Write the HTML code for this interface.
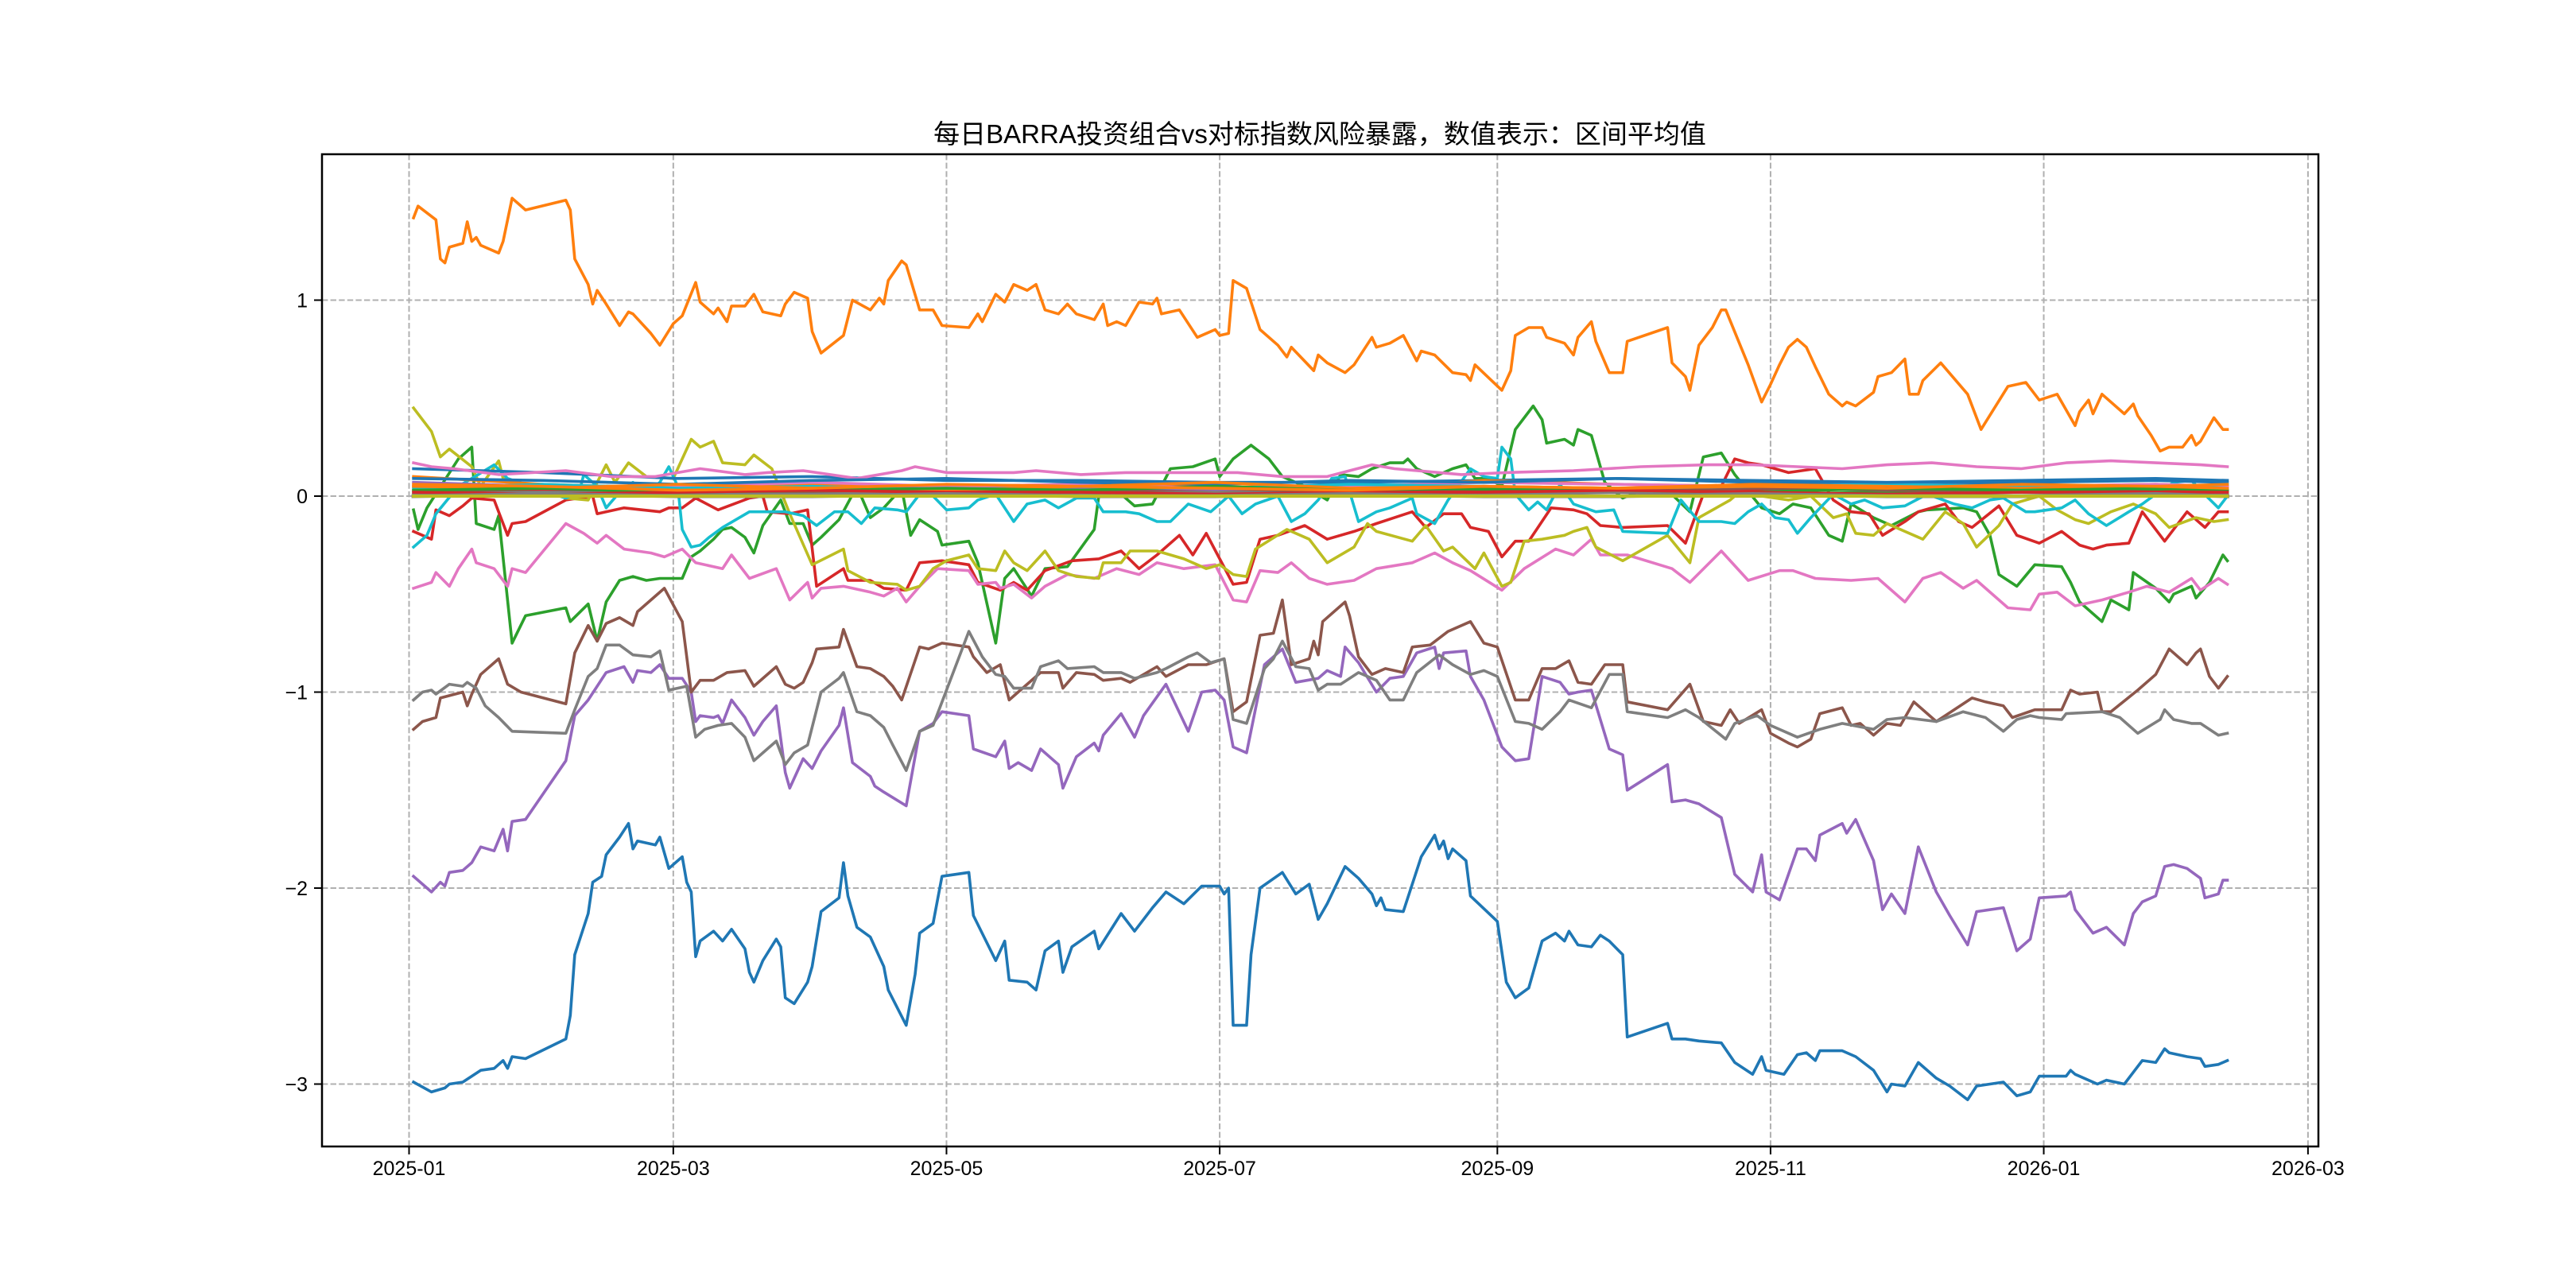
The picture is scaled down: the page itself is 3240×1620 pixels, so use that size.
<!DOCTYPE html>
<html><head><meta charset="utf-8"><title>BARRA exposure</title>
<style>html,body{margin:0;padding:0;background:#fff;}svg{display:block;}
text{font-family:"Liberation Sans","WenQuanYi Zen Hei","Noto Sans CJK SC",sans-serif;fill:#000;}</style></head>
<body>
<svg id="chart" xmlns="http://www.w3.org/2000/svg" width="3240" height="1620" viewBox="0 0 3240 1620">
<rect x="0" y="0" width="3240" height="1620" fill="#fff"/>
<text x="1660" y="180" font-size="33" text-anchor="middle">每日BARRA投资组合vs对标指数风险暴露，数值表示：区间平均值</text>
<defs><clipPath id="plotclip"><rect x="405" y="194" width="2511" height="1248"/></clipPath></defs>
<g id="grid"></g>
<g id="lines" clip-path="url(#plotclip)"></g>
<rect x="405" y="194" width="2511" height="1248" fill="none" stroke="#000" stroke-width="2.5"/>
<g id="axes"></g>
</svg>
<script>
const xTickDays = [0,59,120,181,243,304,365,424];
const xTickLabels = ["2025-01","2025-03","2025-05","2025-07","2025-09","2025-11","2026-01","2026-03"];
const yTickVals = [1,0,-1,-2,-3];
const yTickLabels = ["1","0","\u22121","\u22122","\u22123"];

const blueDays=[1,5,8,9,12,16,19,21,22,23,26,35,36,37,40,41,43,44,47,49,50,51,55,56,58,61,62,63,64,65,68,70,72,75,76,77,79,82,83,84,86,89,90,92,96,97,98,100,103,106,107,111,113,114,117,119,125,126,131,133,134,138,140,142,145,146,148,153,154,159,162,166,169,173,177,181,182,183,184,187,188,190,195,198,201,203,205,209,212,215,216,217,218,222,224,226,229,230,231,232,233,236,237,243,245,247,250,253,256,258,259,261,264,266,268,271,272,281,282,285,288,293,296,300,302,303,307,310,312,314,315,320,323,327,330,331,334,337,341,344,348,350,356,359,362,364,370,371,372,377,379,383,385,387,390,392,393,397,400,401,404,406];
const blueVals=[-2.99,-3.04,-3.02,-3.0,-2.99,-2.93,-2.92,-2.88,-2.92,-2.86,-2.87,-2.77,-2.65,-2.34,-2.13,-1.97,-1.94,-1.83,-1.74,-1.67,-1.80,-1.76,-1.78,-1.74,-1.90,-1.84,-1.97,-2.02,-2.35,-2.27,-2.22,-2.27,-2.21,-2.31,-2.43,-2.48,-2.37,-2.26,-2.30,-2.56,-2.59,-2.48,-2.40,-2.12,-2.05,-1.87,-2.04,-2.20,-2.25,-2.40,-2.52,-2.70,-2.44,-2.23,-2.18,-1.94,-1.92,-2.14,-2.37,-2.27,-2.47,-2.48,-2.52,-2.32,-2.27,-2.43,-2.30,-2.22,-2.31,-2.13,-2.22,-2.10,-2.02,-2.08,-1.99,-1.99,-2.03,-2.0,-2.70,-2.70,-2.34,-2.0,-1.92,-2.03,-1.98,-2.16,-2.08,-1.89,-1.95,-2.03,-2.09,-2.05,-2.11,-2.12,-1.98,-1.84,-1.73,-1.80,-1.76,-1.85,-1.80,-1.86,-2.04,-2.17,-2.48,-2.56,-2.51,-2.27,-2.23,-2.27,-2.22,-2.29,-2.30,-2.24,-2.27,-2.34,-2.76,-2.69,-2.77,-2.77,-2.78,-2.79,-2.89,-2.95,-2.86,-2.93,-2.95,-2.85,-2.84,-2.88,-2.83,-2.83,-2.86,-2.93,-3.04,-3.0,-3.01,-2.89,-2.97,-3.01,-3.08,-3.01,-2.99,-3.06,-3.04,-2.96,-2.96,-2.93,-2.95,-3.0,-2.98,-3.0,-2.94,-2.88,-2.89,-2.82,-2.84,-2.86,-2.87,-2.91,-2.90,-2.88];

const orangeDays=[1,2,6,7,8,9,12,13,14,15,16,20,21,23,26,35,36,37,40,41,42,44,47,49,50,54,56,59,61,64,65,68,69,71,72,75,77,79,83,84,86,89,90,92,97,99,103,105,106,107,110,111,114,117,119,125,127,128,131,133,135,138,140,142,145,147,149,153,155,156,158,160,163,166,167,168,172,176,180,181,183,184,187,190,194,196,197,202,203,205,209,211,215,216,219,222,225,226,229,233,236,237,238,244,246,247,250,253,254,258,260,261,264,265,268,271,272,281,282,285,286,288,291,293,294,299,302,304,306,308,310,312,314,317,320,321,323,327,328,331,334,335,337,338,342,348,351,357,361,364,368,372,373,375,376,378,383,385,386,389,391,393,396,398,399,400,403,405,406];
const orangeVals=[1.42,1.48,1.41,1.21,1.19,1.27,1.29,1.40,1.30,1.32,1.28,1.24,1.30,1.52,1.46,1.51,1.46,1.21,1.08,0.98,1.05,0.98,0.87,0.94,0.93,0.83,0.77,0.88,0.92,1.09,0.99,0.93,0.96,0.89,0.97,0.97,1.03,0.94,0.92,0.98,1.04,1.01,0.84,0.73,0.82,1.0,0.95,1.01,0.98,1.10,1.20,1.18,0.95,0.95,0.87,0.86,0.93,0.89,1.03,0.99,1.08,1.05,1.08,0.95,0.93,0.98,0.93,0.90,0.98,0.87,0.89,0.87,0.99,0.98,1.01,0.93,0.95,0.81,0.85,0.82,0.83,1.10,1.06,0.85,0.77,0.71,0.76,0.64,0.72,0.68,0.63,0.67,0.81,0.76,0.78,0.82,0.69,0.74,0.72,0.63,0.62,0.59,0.67,0.54,0.64,0.82,0.86,0.86,0.81,0.78,0.72,0.81,0.89,0.79,0.63,0.63,0.79,0.86,0.68,0.61,0.54,0.77,0.86,0.95,0.95,0.67,0.48,0.57,0.67,0.76,0.80,0.76,0.66,0.52,0.46,0.48,0.46,0.53,0.61,0.63,0.70,0.52,0.52,0.59,0.68,0.52,0.34,0.56,0.58,0.49,0.52,0.36,0.43,0.49,0.42,0.52,0.42,0.47,0.41,0.31,0.23,0.25,0.25,0.31,0.26,0.28,0.40,0.34,0.34];

const greenDays=[1,2,4,11,14,15,19,20,23,26,35,36,40,42,44,47,50,53,56,61,63,65,68,70,72,75,77,79,83,85,88,90,92,96,100,103,106,110,112,114,118,119,125,127,131,133,135,139,142,147,153,154,158,162,166,170,175,180,181,184,188,192,195,200,205,208,212,215,219,222,223,225,229,233,236,238,241,244,247,251,253,254,258,260,261,264,267,271,275,281,286,289,293,296,302,306,309,313,317,320,322,327,331,337,339,347,350,353,355,359,363,369,371,373,378,380,384,385,390,393,394,398,399,402,405,406];
const greenVals=[-0.07,-0.17,-0.06,0.19,0.25,-0.14,-0.17,-0.10,-0.75,-0.61,-0.57,-0.64,-0.55,-0.74,-0.54,-0.43,-0.41,-0.43,-0.42,-0.42,-0.31,-0.28,-0.22,-0.17,-0.16,-0.21,-0.29,-0.15,-0.02,-0.14,-0.14,-0.25,-0.21,-0.12,0.05,-0.11,-0.06,0.04,-0.20,-0.12,-0.18,-0.25,-0.23,-0.34,-0.75,-0.42,-0.37,-0.51,-0.37,-0.36,-0.17,0.0,0.03,-0.05,-0.04,0.14,0.15,0.19,0.10,0.19,0.26,0.19,0.10,0.05,-0.02,0.11,0.10,0.14,0.17,0.17,0.19,0.14,0.10,0.14,0.16,0.09,0.09,0.05,0.34,0.46,0.39,0.27,0.29,0.26,0.34,0.31,0.07,-0.01,0.03,0.03,-0.08,0.20,0.22,0.11,-0.06,-0.09,-0.04,-0.06,-0.20,-0.23,-0.04,-0.11,-0.15,-0.08,-0.07,-0.06,-0.08,-0.20,-0.40,-0.46,-0.35,-0.36,-0.44,-0.54,-0.64,-0.53,-0.58,-0.39,-0.47,-0.54,-0.50,-0.46,-0.52,-0.44,-0.30,-0.33];

const redDays=[1,5,6,9,12,14,19,22,23,26,35,41,42,48,56,58,61,64,69,76,79,80,85,89,91,97,98,103,106,111,114,119,125,127,132,135,138,142,148,154,159,163,167,172,175,178,181,184,187,190,194,200,205,211,216,220,224,227,231,235,237,241,244,247,250,255,260,263,266,271,281,285,289,293,296,299,302,305,308,314,318,322,326,329,334,337,343,346,349,355,359,364,369,373,376,379,384,387,392,397,401,404,406];
const redVals=[-0.18,-0.22,-0.07,-0.10,-0.05,-0.01,-0.02,-0.20,-0.14,-0.13,-0.02,0.0,-0.09,-0.06,-0.08,-0.06,-0.06,-0.01,-0.07,-0.01,0.0,-0.08,-0.09,-0.07,-0.46,-0.37,-0.43,-0.43,-0.47,-0.48,-0.34,-0.33,-0.35,-0.44,-0.48,-0.44,-0.48,-0.38,-0.33,-0.32,-0.28,-0.37,-0.30,-0.20,-0.30,-0.19,-0.32,-0.45,-0.44,-0.22,-0.20,-0.15,-0.22,-0.18,-0.14,-0.11,-0.08,-0.16,-0.09,-0.09,-0.16,-0.18,-0.31,-0.23,-0.23,-0.06,-0.07,-0.09,-0.15,-0.16,-0.15,-0.24,0.01,0.05,0.19,0.17,0.16,0.14,0.12,0.14,-0.02,-0.08,-0.09,-0.20,-0.13,-0.08,-0.04,-0.13,-0.16,-0.05,-0.20,-0.24,-0.18,-0.25,-0.27,-0.25,-0.24,-0.08,-0.23,-0.08,-0.16,-0.08,-0.08];

const purpleDays=[1,5,7,8,9,12,14,16,19,21,22,23,26,35,37,40,44,48,50,51,54,56,58,61,63,64,65,68,69,70,72,75,77,79,82,84,85,88,90,92,96,97,99,103,104,106,111,114,117,119,125,126,131,133,134,136,139,141,145,146,149,153,154,155,159,162,164,169,174,177,180,182,184,187,191,195,198,203,205,208,209,212,216,219,222,225,229,230,231,236,237,240,244,247,250,253,257,259,261,264,268,271,272,281,282,285,288,293,296,300,302,303,306,310,312,314,315,320,321,323,327,329,331,334,337,341,344,348,350,356,359,362,364,370,371,372,376,379,383,385,387,390,392,394,397,400,401,404,405,406];
const purpleVals=[-1.94,-2.02,-1.97,-1.99,-1.92,-1.91,-1.87,-1.79,-1.81,-1.70,-1.81,-1.66,-1.65,-1.35,-1.12,-1.04,-0.90,-0.87,-0.95,-0.89,-0.90,-0.86,-0.93,-0.93,-1.0,-1.15,-1.12,-1.13,-1.12,-1.16,-1.04,-1.13,-1.22,-1.15,-1.07,-1.41,-1.49,-1.34,-1.39,-1.30,-1.17,-1.08,-1.36,-1.43,-1.48,-1.51,-1.58,-1.20,-1.16,-1.10,-1.12,-1.29,-1.33,-1.25,-1.39,-1.36,-1.40,-1.29,-1.37,-1.49,-1.33,-1.26,-1.30,-1.22,-1.11,-1.23,-1.12,-0.96,-1.20,-1.0,-0.99,-1.04,-1.28,-1.31,-0.86,-0.78,-0.95,-0.93,-0.89,-0.92,-0.77,-0.85,-1.0,-0.93,-0.92,-0.80,-0.77,-0.88,-0.80,-0.79,-0.92,-1.04,-1.28,-1.35,-1.34,-0.92,-0.95,-1.01,-1.0,-0.99,-1.29,-1.32,-1.50,-1.37,-1.56,-1.55,-1.57,-1.64,-1.93,-2.02,-1.83,-2.02,-2.06,-1.80,-1.80,-1.86,-1.73,-1.67,-1.72,-1.65,-1.86,-2.11,-2.03,-2.13,-1.79,-2.02,-2.14,-2.29,-2.12,-2.10,-2.32,-2.26,-2.05,-2.04,-2.02,-2.11,-2.23,-2.20,-2.29,-2.13,-2.07,-2.04,-1.89,-1.88,-1.90,-1.95,-2.05,-2.03,-1.96,-1.96];

const brownDays=[1,3,6,7,12,13,14,16,20,22,25,35,37,40,42,44,47,50,51,54,57,61,63,65,68,71,75,77,82,84,86,88,90,91,96,97,100,103,106,108,110,114,116,119,125,126,129,132,134,136,141,145,146,149,153,155,159,161,167,169,174,178,182,184,187,190,193,195,197,201,202,203,204,209,210,212,215,218,222,224,228,232,237,240,243,247,250,253,256,259,261,264,267,271,272,281,286,289,293,295,297,302,304,308,310,313,315,320,322,324,327,330,333,336,341,349,352,356,358,363,369,371,373,377,378,380,386,390,393,397,399,400,402,404,406];
const brownVals=[-1.19,-1.15,-1.13,-1.03,-1.0,-1.07,-1.01,-0.91,-0.83,-0.96,-1.0,-1.06,-0.80,-0.66,-0.74,-0.65,-0.62,-0.66,-0.59,-0.53,-0.47,-0.64,-1.0,-0.94,-0.94,-0.90,-0.89,-0.97,-0.87,-0.96,-0.98,-0.95,-0.85,-0.78,-0.77,-0.68,-0.87,-0.88,-0.92,-0.97,-1.04,-0.77,-0.78,-0.75,-0.77,-0.82,-0.90,-0.86,-1.04,-1.0,-0.90,-0.90,-0.98,-0.90,-0.91,-0.94,-0.93,-0.95,-0.87,-0.92,-0.86,-0.86,-0.83,-1.10,-1.05,-0.71,-0.70,-0.53,-0.86,-0.83,-0.74,-0.81,-0.64,-0.54,-0.61,-0.82,-0.91,-0.88,-0.90,-0.77,-0.76,-0.69,-0.64,-0.75,-0.77,-1.04,-1.04,-0.88,-0.88,-0.84,-0.95,-0.96,-0.86,-0.86,-1.05,-1.09,-0.96,-1.15,-1.17,-1.09,-1.16,-1.09,-1.21,-1.26,-1.28,-1.24,-1.11,-1.08,-1.17,-1.16,-1.22,-1.16,-1.17,-1.05,-1.15,-1.03,-1.05,-1.07,-1.13,-1.09,-1.09,-0.99,-1.01,-1.0,-1.10,-1.10,-0.99,-0.91,-0.78,-0.86,-0.80,-0.78,-0.92,-0.98,-0.92];

const grayDays=[1,3,5,6,9,12,13,15,17,20,23,35,37,40,42,44,47,50,54,56,58,62,64,66,69,72,75,77,79,82,84,86,89,92,96,97,100,103,106,108,111,114,117,125,128,131,133,135,139,141,145,147,153,155,159,162,167,169,174,176,179,182,184,187,191,193,195,198,201,203,205,208,212,216,219,222,225,230,233,237,240,243,247,250,253,257,259,264,268,271,272,281,285,288,294,296,301,304,310,315,320,327,330,334,341,347,352,356,359,362,364,369,370,378,382,386,391,392,394,398,400,404,406];
const grayVals=[-1.04,-1.0,-0.99,-1.01,-0.96,-0.97,-0.95,-0.98,-1.07,-1.13,-1.20,-1.21,-1.09,-0.92,-0.88,-0.76,-0.76,-0.81,-0.82,-0.79,-0.99,-0.97,-1.23,-1.19,-1.17,-1.16,-1.23,-1.35,-1.31,-1.25,-1.37,-1.31,-1.27,-1.0,-0.93,-0.90,-1.10,-1.12,-1.18,-1.27,-1.40,-1.20,-1.17,-0.69,-0.82,-0.91,-0.92,-0.98,-0.98,-0.87,-0.84,-0.88,-0.87,-0.90,-0.90,-0.93,-0.90,-0.88,-0.82,-0.80,-0.85,-0.83,-1.14,-1.16,-0.88,-0.83,-0.74,-0.87,-0.88,-0.99,-0.96,-0.96,-0.90,-0.94,-1.04,-1.04,-0.90,-0.81,-0.86,-0.91,-0.89,-0.92,-1.15,-1.16,-1.19,-1.10,-1.04,-1.08,-0.91,-0.91,-1.10,-1.13,-1.09,-1.13,-1.24,-1.16,-1.12,-1.17,-1.23,-1.19,-1.16,-1.19,-1.14,-1.13,-1.15,-1.10,-1.13,-1.20,-1.14,-1.12,-1.13,-1.14,-1.11,-1.10,-1.13,-1.21,-1.14,-1.09,-1.14,-1.16,-1.16,-1.22,-1.21];

const pinkLowDays=[1,5,6,9,11,14,15,19,22,23,26,35,39,42,44,48,54,57,61,64,70,72,76,82,85,89,90,92,97,103,106,109,111,114,118,125,127,131,132,135,139,142,147,153,158,163,167,173,180,184,187,190,194,197,201,205,211,216,224,229,233,237,244,249,256,260,264,266,272,282,286,293,299,306,309,314,322,328,334,338,342,347,350,357,362,364,368,372,378,384,388,393,398,400,404,406];
const pinkLowVals=[-0.47,-0.44,-0.39,-0.46,-0.37,-0.27,-0.34,-0.37,-0.46,-0.37,-0.39,-0.14,-0.19,-0.24,-0.20,-0.27,-0.29,-0.31,-0.27,-0.34,-0.37,-0.30,-0.42,-0.37,-0.53,-0.44,-0.52,-0.47,-0.46,-0.49,-0.51,-0.47,-0.54,-0.46,-0.37,-0.38,-0.45,-0.44,-0.47,-0.45,-0.52,-0.46,-0.40,-0.42,-0.37,-0.40,-0.34,-0.37,-0.35,-0.53,-0.54,-0.38,-0.39,-0.34,-0.42,-0.45,-0.43,-0.37,-0.34,-0.29,-0.34,-0.38,-0.48,-0.37,-0.27,-0.30,-0.22,-0.30,-0.30,-0.37,-0.44,-0.28,-0.43,-0.38,-0.38,-0.42,-0.43,-0.42,-0.54,-0.42,-0.39,-0.47,-0.43,-0.57,-0.58,-0.50,-0.49,-0.56,-0.53,-0.49,-0.46,-0.49,-0.42,-0.48,-0.42,-0.45];

const oliveDays=[1,5,7,9,14,16,20,21,35,40,44,46,49,53,59,63,65,68,70,75,77,81,85,90,97,98,103,109,111,114,117,120,125,127,131,133,135,138,142,145,149,154,155,159,161,167,173,178,181,184,187,189,196,201,205,211,214,216,224,227,231,233,238,240,244,246,249,253,258,260,263,265,271,281,286,288,295,297,302,308,313,318,321,323,327,330,334,338,343,347,350,355,358,364,368,372,375,380,385,390,393,399,403,406];
const oliveVals=[0.45,0.33,0.20,0.24,0.15,0.05,0.18,0.09,-0.01,-0.02,0.16,0.07,0.17,0.10,0.09,0.29,0.25,0.28,0.17,0.16,0.21,0.14,-0.09,-0.35,-0.27,-0.38,-0.44,-0.45,-0.48,-0.46,-0.37,-0.33,-0.30,-0.37,-0.38,-0.28,-0.34,-0.38,-0.28,-0.38,-0.41,-0.42,-0.34,-0.34,-0.28,-0.28,-0.32,-0.37,-0.35,-0.40,-0.41,-0.27,-0.17,-0.22,-0.34,-0.26,-0.14,-0.18,-0.23,-0.15,-0.28,-0.26,-0.37,-0.29,-0.46,-0.44,-0.23,-0.22,-0.20,-0.18,-0.16,-0.26,-0.33,-0.20,-0.34,-0.11,-0.02,0.02,0.0,-0.02,0.0,-0.11,-0.09,-0.19,-0.20,-0.14,-0.18,-0.22,-0.08,-0.14,-0.26,-0.15,-0.04,0.0,-0.07,-0.12,-0.14,-0.08,-0.04,-0.09,-0.16,-0.11,-0.13,-0.12];

const cyanDays=[1,4,6,11,14,19,22,35,38,39,42,44,47,50,53,56,58,60,61,63,65,67,70,73,76,79,84,88,91,95,98,101,104,109,111,114,117,120,125,127,131,135,138,142,145,149,153,155,160,163,167,170,174,179,183,186,189,194,197,200,203,206,209,212,216,219,224,225,229,232,237,240,243,244,246,247,250,252,254,257,260,265,269,271,281,284,288,293,296,299,302,305,308,310,313,318,322,325,329,334,339,345,349,353,356,361,363,369,372,375,379,384,387,390,394,398,400,404,406];
const cyanVals=[-0.26,-0.20,-0.09,0.05,0.09,0.16,0.09,-0.01,0.02,0.11,0.05,-0.06,0.02,0.07,0.01,0.07,0.15,0.05,-0.17,-0.26,-0.25,-0.21,-0.16,-0.12,-0.08,-0.08,-0.08,-0.10,-0.15,-0.08,-0.08,-0.14,-0.06,-0.07,-0.08,0.01,0.0,-0.07,-0.06,-0.02,0.01,-0.13,-0.04,-0.02,-0.06,-0.01,-0.01,-0.08,-0.08,-0.09,-0.13,-0.13,-0.04,-0.08,0.0,-0.09,-0.04,0.0,-0.13,-0.09,-0.02,0.09,0.10,-0.13,-0.08,-0.06,-0.01,-0.09,-0.14,-0.02,0.14,0.10,0.09,0.25,0.19,0.01,-0.07,-0.03,-0.07,0.06,-0.04,-0.08,-0.07,-0.18,-0.19,-0.02,-0.13,-0.13,-0.14,-0.08,-0.04,-0.11,-0.12,-0.19,-0.11,0.01,-0.04,-0.02,-0.06,-0.05,0.01,-0.04,-0.06,-0.02,-0.01,-0.08,-0.08,-0.06,-0.02,-0.09,-0.15,-0.08,-0.04,0.01,0.07,0.08,0.03,-0.06,0.0];

const pinkHighDays=[1,5,10,20,35,45,55,65,75,80,88,100,110,113,120,135,140,150,160,175,185,195,205,215,220,235,245,260,275,290,300,310,320,330,340,350,360,370,380,390,400,406];
const pinkHighVals=[0.17,0.15,0.14,0.11,0.13,0.10,0.10,0.14,0.11,0.12,0.13,0.09,0.13,0.15,0.12,0.12,0.13,0.11,0.12,0.12,0.12,0.10,0.10,0.16,0.14,0.11,0.12,0.13,0.15,0.16,0.16,0.15,0.14,0.16,0.17,0.15,0.14,0.17,0.18,0.17,0.16,0.15];

const clusterDays=[1,30,60,90,120,150,180,210,240,270,300,330,360,390,406];
const clusterA=[0.14,0.12,0.09,0.10,0.08,0.08,0.07,0.07,0.08,0.09,0.07,0.06,0.07,0.08,0.07];
const clusterB=[0.10,0.06,0.04,0.06,0.05,0.06,0.05,0.04,0.08,0.06,0.05,0.04,0.05,0.06,0.05];
const clusterC=[0.02,0.03,0.01,0.02,0.03,0.02,0.01,0.02,0.03,0.02,0.01,0.02,0.02,0.03,0.02];
const clusterD=[0.05,0.03,0.04,0.02,0.03,0.04,0.02,0.03,0.04,0.02,0.03,0.04,0.03,0.02,0.03];
const clusterE=[0.07,0.05,0.04,0.03,0.05,0.04,0.03,0.04,0.05,0.03,0.04,0.03,0.04,0.05,0.04];
const clusterF=[0.03,0.02,0.03,0.02,0.04,0.03,0.02,0.03,0.02,0.03,0.04,0.03,0.02,0.04,0.03];
const clusterG=[0.06,0.04,0.05,0.07,0.05,0.06,0.04,0.05,0.07,0.06,0.05,0.06,0.05,0.06,0.05];
const clusterH=[0.01,0.02,0.01,0.01,0.02,0.01,0.02,0.01,0.01,0.02,0.01,0.01,0.02,0.01,0.01];
const clusterI=[0.04,0.06,0.04,0.05,0.03,0.05,0.04,0.06,0.05,0.04,0.05,0.06,0.05,0.04,0.06];
const clusterJ=[0.09,0.08,0.06,0.08,0.09,0.07,0.06,0.08,0.07,0.09,0.08,0.07,0.08,0.09,0.08];
const clusterK=[0.05,0.04,0.06,0.04,0.03,0.05,0.07,0.04,0.05,0.04,0.06,0.05,0.04,0.05,0.06];
const clusterL=[0.03,0.04,0.02,0.03,0.04,0.03,0.05,0.03,0.04,0.03,0.02,0.04,0.03,0.04,0.03];
const clusterM=[0.02,0.01,0.02,0.03,0.02,0.02,0.01,0.02,0.02,0.03,0.02,0.01,0.02,0.02,0.02];
const clusterN=[0.06,0.05,0.03,0.04,0.06,0.05,0.04,0.03,0.05,0.04,0.05,0.04,0.06,0.05,0.04];
const clusterO=[0.0,0.01,0.0,0.0,0.01,0.0,0.0,0.01,0.0,0.0,0.01,0.0,0.0,0.01,0.0];
const clusterP=[0.0,0.0,0.0,0.0,0.0,0.0,0.0,0.0,0.0,0.0,0.0,0.0,0.0,0.0,0.0];

const C=["#1f77b4","#ff7f0e","#2ca02c","#d62728","#9467bd","#8c564b","#e377c2","#7f7f7f","#bcbd22","#17becf"];
const X0=514.5, PXD=5.633, Y0=624, PYU=246.5;
function xs(d){return X0+d*PXD;}
function ys(v){return Y0-v*PYU;}
const NS="http://www.w3.org/2000/svg";
const grid=document.getElementById('grid'), lines=document.getElementById('lines'), axes=document.getElementById('axes');

xTickDays.forEach((d,i)=>{
  const x=xs(d);
  const g=document.createElementNS(NS,'line');
  g.setAttribute('x1',x);g.setAttribute('x2',x);g.setAttribute('y1',194);g.setAttribute('y2',1442);
  g.setAttribute('stroke','#b0b0b0');g.setAttribute('stroke-width','2');g.setAttribute('stroke-dasharray','7.4,3.2');
  
  
  grid.appendChild(g);
  const t=document.createElementNS(NS,'line');
  t.setAttribute('x1',x);t.setAttribute('x2',x);t.setAttribute('y1',1442);t.setAttribute('y2',1452);
  t.setAttribute('stroke','#000');t.setAttribute('stroke-width','2');
  
  
  axes.appendChild(t);
  const l=document.createElementNS(NS,'text');
  l.setAttribute('x',x);l.setAttribute('y',1478);l.setAttribute('font-size','25');l.setAttribute('text-anchor','middle');
  l.textContent=xTickLabels[i];
  
  
  axes.appendChild(l);
});
yTickVals.forEach((v,i)=>{
  const y=ys(v);
  const g=document.createElementNS(NS,'line');
  g.setAttribute('x1',405);g.setAttribute('x2',2916);g.setAttribute('y1',y);g.setAttribute('y2',y);
  g.setAttribute('stroke','#b0b0b0');g.setAttribute('stroke-width','2');g.setAttribute('stroke-dasharray','7.4,3.2');
  
  
  grid.appendChild(g);
  const t=document.createElementNS(NS,'line');
  t.setAttribute('x1',395);t.setAttribute('x2',405);t.setAttribute('y1',y);t.setAttribute('y2',y);
  t.setAttribute('stroke','#000');t.setAttribute('stroke-width','2');
  
  
  axes.appendChild(t);
  const l=document.createElementNS(NS,'text');
  l.setAttribute('x',387);l.setAttribute('y',y+9);l.setAttribute('font-size','25');l.setAttribute('text-anchor','end');
  l.textContent=yTickLabels[i];
  
  
  axes.appendChild(l);
});
function drawLine(days,vals,color,name,w){
  const p=document.createElementNS(NS,'polyline');
  p.setAttribute('points',days.map((d,i)=>xs(d).toFixed(1)+','+ys(vals[i]).toFixed(1)).join(' '));
  p.setAttribute('fill','none');p.setAttribute('stroke',color);p.setAttribute('stroke-width',w||3.6);
  p.setAttribute('stroke-linejoin','round');p.setAttribute('stroke-linecap','square');
  
  
  lines.appendChild(p);
}
drawLine(blueDays,blueVals,C[0],'series-blue');
drawLine(orangeDays,orangeVals,C[1],'series-orange');
drawLine(greenDays,greenVals,C[2],'series-green');
drawLine(redDays,redVals,C[3],'series-red');
drawLine(purpleDays,purpleVals,C[4],'series-purple');
drawLine(brownDays,brownVals,C[5],'series-brown');
drawLine(pinkLowDays,pinkLowVals,C[6],'series-pink-low');
drawLine(grayDays,grayVals,C[7],'series-gray');
drawLine(oliveDays,oliveVals,C[8],'series-olive');
drawLine(cyanDays,cyanVals,C[9],'series-cyan');
drawLine(clusterDays,clusterA,C[0],'series-cluster-a');
drawLine(clusterDays,clusterB,C[1],'series-cluster-b');
drawLine(pinkHighDays,pinkHighVals,C[6],'series-pink-high');
drawLine(clusterDays,clusterC,C[2],'series-cluster-c');
drawLine(clusterDays,clusterD,C[3],'series-cluster-d');
drawLine(clusterDays,clusterE,C[4],'series-cluster-e');
drawLine(clusterDays,clusterF,C[5],'series-cluster-f');
drawLine(clusterDays,clusterG,C[6],'series-cluster-g');
drawLine(clusterDays,clusterH,C[7],'series-cluster-h');
drawLine(clusterDays,clusterI,C[9],'series-cluster-i');
drawLine(clusterDays,clusterJ,C[0],'series-cluster-j');
drawLine(clusterDays,clusterK,C[1],'series-cluster-k');
drawLine(clusterDays,clusterL,C[2],'series-cluster-l');
drawLine(clusterDays,clusterM,C[3],'series-cluster-m');
drawLine(clusterDays,clusterN,C[1],'series-cluster-n');
drawLine(clusterDays,clusterO,C[7],'series-cluster-o',5);
drawLine(clusterDays,clusterP,C[8],'series-cluster-p',4);
</script>
</body></html>
